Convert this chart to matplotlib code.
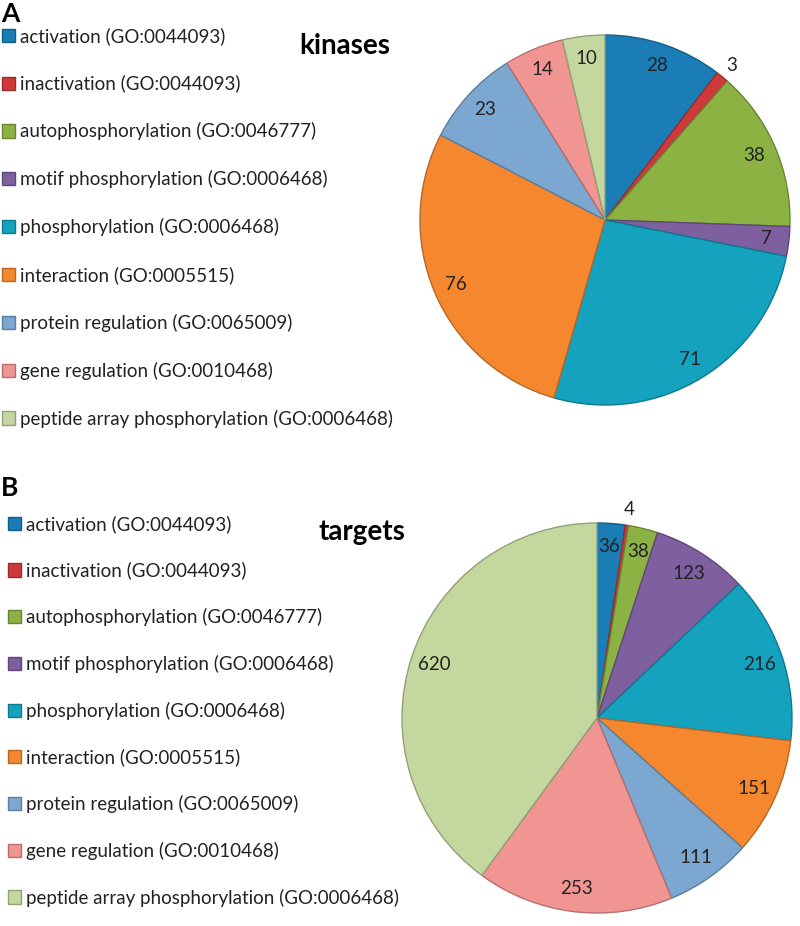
import matplotlib.pyplot as plt
from matplotlib.colors import to_rgb

plt.rcParams['font.family'] = ['Lato', 'DejaVu Sans']

categories = ['activation (GO:0044093)', 'inactivation (GO:0044093)',
              'autophosphorylation (GO:0046777)', 'motif phosphorylation (GO:0006468)',
              'phosphorylation (GO:0006468)', 'interaction (GO:0005515)',
              'protein regulation (GO:0065009)', 'gene regulation (GO:0010468)',
              'peptide array phosphorylation (GO:0006468)']
kinases = [28, 3, 38, 7, 71, 76, 23, 14, 10]
targets = [36, 4, 38, 123, 216, 151, 111, 253, 620]

colors = ['#1B7DB5', '#D0393A', '#8CB244', '#7E5FA0', '#14A2BE',
          '#F5882E', '#7BA7D1', '#F19593', '#C3D79E']

W, H = 800, 926
fig = plt.figure(figsize=(W / 100, H / 100), dpi=100)


def darker(c, f=0.75):
    r, g, b = to_rgb(c)
    return (r * f, g * f, b * f)


def draw_pie(values, cx, cy, r, title, tx, ty, letter, ly, leg_x, leg_top, spacing, outside):
    ax = fig.add_axes([(cx - r) / W, (H - cy - r) / H, 2 * r / W, 2 * r / H])
    wedges, texts = ax.pie(values, colors=colors, startangle=90, counterclock=False,
                           labels=[str(v) for v in values], labeldistance=0.88,
                           wedgeprops=dict(linewidth=1.0),
                           textprops=dict(fontsize=13.5, ha='center', va='center', color='#222222'))
    for w, c in zip(wedges, colors):
        w.set_edgecolor(darker(c))
    for i in outside:
        x, y = texts[i].get_position()
        texts[i].set_position((x * 1.23, y * 1.23))
    ax.set_xlim(-1, 1)
    ax.set_ylim(-1, 1)
    fig.text(tx / W, 1 - ty / H, title, fontsize=20, fontweight='bold', ha='center', va='center')
    fig.text(10 / W, 1 - ly / H, letter, fontsize=19, fontweight='bold', ha='center', va='center')
    leg = fig.legend(wedges, categories, loc='upper left',
                     bbox_to_anchor=(leg_x / W, 1 - leg_top / H), frameon=False,
                     fontsize=13.5, labelspacing=spacing, handlelength=0.7, handleheight=0.7,
                     handletextpad=0.25, borderpad=0, borderaxespad=0)
    for t in leg.get_texts():
        t.set_color('#222222')
    return ax


draw_pie(kinases, 605, 220, 185, 'kinases', 345, 46, 'A', 14, 2, 27, 1.59, outside=[1])
draw_pie(targets, 597, 718, 195, 'targets', 362, 532, 'B', 488, 8, 515, 1.53, outside=[1])

fig.savefig('out.png', dpi=100, facecolor='white')
